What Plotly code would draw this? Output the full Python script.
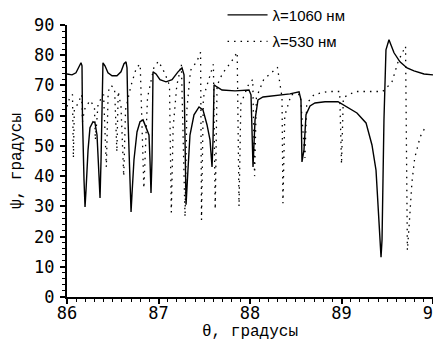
import plotly.graph_objects as go

# λ = 1060 nm (solid)
theta_1060 = [86.000, 86.055, 86.098, 86.131, 86.153, 86.164, 86.169, 86.186, 86.197, 86.208,
              86.230, 86.251, 86.284, 86.306, 86.328, 86.344, 86.350, 86.361, 86.372, 86.383,
              86.393, 86.415, 86.448, 86.492, 86.546, 86.590, 86.623, 86.645, 86.656, 86.667,
              86.689, 86.700, 86.710, 86.732, 86.765, 86.798, 86.831, 86.863, 86.896, 86.907,
              86.918, 86.929, 86.940, 86.973, 87.016, 87.082, 87.148, 87.213, 87.257, 87.279,
              87.290, 87.301, 87.322, 87.344, 87.388, 87.443, 87.486, 87.530, 87.563, 87.585,
              87.596, 87.607, 87.639, 87.694, 87.836, 87.989, 88.011, 88.033, 88.055, 88.087,
              88.142, 88.273, 88.437, 88.536, 88.557, 88.568, 88.590, 88.612, 88.656, 88.710,
              88.820, 88.962, 89.060, 89.169, 89.268, 89.333, 89.377, 89.399, 89.421, 89.432,
              89.443, 89.464, 89.486, 89.519, 89.541, 89.574, 89.639, 89.716, 89.792, 89.902,
              90.000]
psi_1060 = [73.8, 73.5, 74.2, 76.2, 77.5, 76.5, 59.6, 38.7, 29.8, 35.4,
            48.7, 56.0, 58.0, 57.6, 53.6, 43.7, 38.7, 32.8, 45.4, 65.2,
            77.5, 76.5, 74.2, 73.2, 73.2, 74.5, 77.2, 77.8, 75.8, 58.6,
            38.7, 28.1, 33.8, 45.4, 54.6, 58.0, 58.6, 56.0, 53.6, 45.4,
            34.4, 45.4, 74.5, 73.8, 71.9, 71.2, 71.9, 74.5, 75.8, 73.5,
            52.0, 30.5, 42.0, 53.6, 60.3, 62.9, 61.9, 57.0, 52.0, 43.0,
            52.0, 70.2, 69.5, 68.5, 68.2, 68.5, 66.9, 43.0, 58.6, 65.2,
            66.2, 66.6, 67.2, 67.9, 65.2, 44.7, 48.7, 60.3, 63.2, 64.2,
            64.6, 64.6, 62.9, 60.9, 57.6, 50.3, 42.0, 31.1, 18.9, 13.2,
            18.9, 58.6, 81.8, 85.1, 83.4, 80.8, 77.8, 75.8, 74.8, 73.8,
            73.5]

# λ = 530 nm (dotted)
theta_530 = [86.00, 86.03, 86.06, 86.07, 86.08, 86.12, 86.16, 86.17, 86.19, 86.25,
             86.30, 86.31, 86.34, 86.40, 86.43, 86.45, 86.48, 86.52, 86.545, 86.56,
             86.59, 86.62, 86.64, 86.70, 86.76, 86.80, 86.84, 86.86, 86.88, 86.95,
             87.00, 87.07, 87.12, 87.14, 87.16, 87.20, 87.25, 87.29, 87.31, 87.35,
             87.42, 87.46, 87.47, 87.49, 87.55, 87.60, 87.62, 87.64, 87.70, 87.80,
             87.86, 87.88, 87.90, 87.98, 88.03, 88.05, 88.07, 88.15, 88.30, 88.35,
             88.36, 88.38, 88.45, 88.55, 88.60, 88.62, 88.70, 88.85, 88.98, 89.00,
             89.02, 89.15, 89.30, 89.45, 89.55, 89.62, 89.70, 89.72, 89.74, 89.77,
             89.80, 89.86, 89.93]
psi_530 = [63, 66, 67, 46, 62, 64, 67, 58, 62, 65,
           63, 52, 64, 67, 43, 68, 70, 69, 48, 68,
           63, 40, 62, 70, 76, 77, 36, 50, 66, 76,
           78, 74, 70, 28, 56, 70, 77, 26.5, 62, 75,
           78, 81, 25.5, 66, 72, 77, 29, 70, 74, 78,
           81, 30, 64, 70, 72, 40, 66, 72, 76, 66,
           31, 60, 67, 67, 46, 64, 67, 68, 68, 44,
           66, 68, 68, 68, 71, 78, 83, 15.5, 24, 38,
           46, 53, 57]

x_ticks = [86, 87, 88, 89, 90]
y_ticks = [0, 10, 20, 30, 40, 50, 60, 70, 80, 90]

fig = go.Figure()
fig.add_trace(go.Scatter(x=theta_1060, y=psi_1060, mode="lines", name="λ=1060 нм",
                         legendgroup="a",
                         line=dict(color="black", width=1.4)))
fig.add_trace(go.Scatter(x=theta_530, y=psi_530, mode="lines", name="λ=530 нм",
                         legendgroup="b",
                         line=dict(color="black", width=1.3, dash="1.5px,5px")))

tick_font = dict(family="DejaVu Sans Mono", size=17, color="black")
title_font = dict(family="Liberation Mono", size=16, color="black")

# the page body adds an 8px offset, so the figure is 433x342
fig.update_layout(
    width=433, height=342,
    margin=dict(l=59, r=8, t=17, b=53, autoexpand=False),
    paper_bgcolor="white", plot_bgcolor="white",
    showlegend=True,
    legend=dict(x=0.425, y=1.097, xanchor="left", yanchor="top",
                bgcolor="rgba(255,255,255,0)", borderwidth=0,
                font=dict(family="Liberation Sans", size=15, color="black"),
                traceorder="grouped", tracegroupgap=4, itemwidth=40),
    xaxis=dict(range=[86, 90], tickvals=x_ticks, ticktext=[str(v) for v in x_ticks],
               automargin=False,
               showgrid=False, zeroline=False, showline=True, linecolor="black", linewidth=2,
               ticks="outside", ticklen=5, tickwidth=1.5, tickcolor="black",
               minor=dict(dtick=0.1, ticks="outside", ticklen=3, tickwidth=1, tickcolor="black"),
               tickfont=tick_font, ticklabeloverflow="allow", ticklabelstandoff=-5,
               title=dict(text="θ, градусы", font=title_font, standoff=1)),
    yaxis=dict(range=[0, 90], tickvals=y_ticks, ticktext=[str(v) for v in y_ticks],
               automargin=False,
               showgrid=False, zeroline=False, showline=True, linecolor="black", linewidth=2,
               ticks="outside", ticklen=5, tickwidth=1.5, tickcolor="black",
               minor=dict(dtick=2, ticks="outside", ticklen=3, tickwidth=1, tickcolor="black"),
               tickfont=tick_font, ticklabelstandoff=2,
               title=dict(text="ψ, градусы", font=title_font, standoff=20)),
)

fig.write_html("out.html")
